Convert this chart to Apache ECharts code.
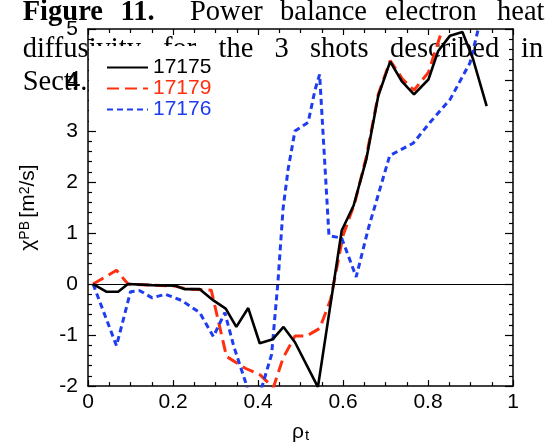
<!DOCTYPE html>
<html>
<head>
<meta charset="utf-8">
<script src="https://cdn.jsdelivr.net/npm/echarts@6/dist/echarts.min.js"></script>
<style>
  html, body { margin: 0; padding: 0; background: #fff; }
  #chart { width: 557px; height: 448px; }
</style>
</head>
<body>
<div id="chart"></div>
<script>
// Shot numbers shown in the legend
const shotNames = ['17175', '17179', '17176'];

// Shot 17175: normalised radius and power-balance chi_e [m^2/s]
const rho17175 = [0.012, 0.043, 0.071, 0.094, 0.15, 0.204, 0.228, 0.263, 0.295, 0.324, 0.349, 0.377, 0.404, 0.435, 0.46, 0.487, 0.541, 0.597, 0.625, 0.655, 0.683, 0.711, 0.738, 0.767, 0.801, 0.824, 0.852, 0.881, 0.906, 0.938];
const chi17175 = [0, -0.15, -0.15, 0, -0.02, -0.03, -0.1, -0.1, -0.32, -0.48, -0.84, -0.47, -1.16, -1.08, -0.84, -1.14, -2.02, 1.05, 1.54, 2.45, 3.69, 4.36, 3.98, 3.72, 4.01, 4.57, 4.87, 4.94, 4.41, 3.49];

// Shot 17179
const rho17179 = [0.012, 0.067, 0.094, 0.15, 0.204, 0.235, 0.29, 0.326, 0.37, 0.405, 0.436, 0.459, 0.487, 0.514, 0.545, 0.571, 0.6, 0.628, 0.655, 0.683, 0.711, 0.74, 0.767, 0.801, 0.83];
const chi17179 = [0, 0.27, 0, -0.02, -0.04, -0.1, -0.12, -1.42, -1.65, -1.78, -2.03, -1.45, -1.02, -1.02, -0.87, -0.3, 0.95, 1.6, 2.5, 3.72, 4.38, 4.02, 3.8, 4.15, 4.9];

// Shot 17176
const rho17176 = [0.012, 0.067, 0.1, 0.122, 0.151, 0.182, 0.22, 0.263, 0.295, 0.322, 0.343, 0.371, 0.39, 0.408, 0.432, 0.447, 0.459, 0.471, 0.487, 0.518, 0.534, 0.545, 0.567, 0.597, 0.631, 0.66, 0.71, 0.765, 0.805, 0.852, 0.899, 0.927];
const chi17176 = [0, -1.21, -0.15, -0.13, -0.27, -0.2, -0.32, -0.56, -1.03, -0.56, -1.22, -1.93, -2.5, -2.05, -1.38, 0.05, 1.48, 2.26, 3.0, 3.17, 3.8, 4.11, 0.95, 0.9, 0.14, 1.1, 2.52, 2.76, 3.17, 3.62, 4.34, 5.3];

// Tick labels
const xTickLabels = ['0', '0.2', '0.4', '0.6', '0.8', '1'];
const yTickLabels = ['-2', '-1', '0', '1', '2', '3', '4', '5'];

const pairs = (xs, ys) => xs.map((x, i) => [x, ys[i]]);

const sans = '"Liberation Sans", Arial, Helvetica, sans-serif';
const serifFont = '28.5px "Liberation Serif", "Times New Roman", serif';
const serifBold = 'bold 28.5px "Liberation Serif", "Times New Roman", serif';

const colBlack = '#000000';
const colRed = '#ff3010';
const colBlue = '#1e3cf0';

// Caption words, laid out as a justified paragraph
function word(text, x, baseline, font) {
  return {
    type: 'text', x: x, y: baseline - 5.5, z: 0,
    style: { text: text, font: font || serifFont, fill: '#000', align: 'left', verticalAlign: 'middle' }
  };
}
const caption = [
  word('Figure', 22.7, 18.3, serifBold),
  word('11.', 120.5, 18.3, serifBold),
  word('Power', 190, 18.3),
  word('balance', 280, 18.3),
  word('electron', 385, 18.3),
  word('heat', 497, 18.3),
  word('diffusivity', 22.7, 55),
  word('for', 163, 55),
  word('the', 218.5, 55),
  word('3', 274.5, 55),
  word('shots', 310, 55),
  word('described', 390, 55),
  word('in', 521, 55),
  word('Sect.', 22.7, 88),
  word('4.3', 66, 88)
];

const tickLine = { color: '#000', width: 1.2 };
const frameLine = { show: true, onZero: false, lineStyle: { color: '#000', width: 1.5 } };

const chart = echarts.init(document.getElementById('chart'), null, { renderer: 'canvas' });
chart.setOption({
  animation: false,
  backgroundColor: '#ffffff',
  graphic: { elements: caption },
  grid: { left: 88, right: 44, top: 29, bottom: 59, containLabel: false },
  legend: {
    orient: 'vertical',
    left: 89, top: 46,
    backgroundColor: '#ffffff',
    padding: [11, 4, 3, 17],
    itemWidth: 41, itemHeight: 19, itemGap: 0,
    selectedMode: false,
    itemStyle: { opacity: 0 },
    textStyle: { fontSize: 21, fontFamily: sans, lineHeight: 19 },
    data: [
      { name: shotNames[0], textStyle: { color: colBlack } },
      { name: shotNames[1], textStyle: { color: colRed } },
      { name: shotNames[2], textStyle: { color: colBlue } }
    ],
    z: 6
  },
  xAxis: [
    {
      type: 'value', min: 0, max: 1, interval: 0.2, position: 'bottom',
      axisLine: frameLine,
      axisTick: { show: true, inside: true, length: 6, lineStyle: tickLine },
      minorTick: { show: true, splitNumber: 4, length: 4, lineStyle: tickLine },
      splitLine: { show: false },
      axisLabel: {
        show: true, margin: 6, fontSize: 21, fontFamily: sans, color: '#000',
        showMinLabel: true, showMaxLabel: true,
        formatter: v => xTickLabels[Math.round(v / 0.2)]
      },
      name: '{r|ρ}{t|t}',
      nameLocation: 'middle', nameGap: 22,
      nameTextStyle: {
        rich: {
          r: { fontSize: 21, fontFamily: sans, color: '#000', lineHeight: 21, verticalAlign: 'top' },
          t: { fontSize: 15, fontFamily: sans, color: '#000', lineHeight: 15, verticalAlign: 'bottom', padding: [10, 0, 0, 1] }
        }
      }
    },
    {
      type: 'value', min: 0, max: 1, interval: 0.2, position: 'top',
      axisLine: frameLine,
      axisTick: { show: true, inside: true, length: 6, lineStyle: tickLine },
      minorTick: { show: true, splitNumber: 4, length: 4, lineStyle: tickLine },
      splitLine: { show: false },
      axisLabel: { show: false }
    }
  ],
  yAxis: [
    {
      type: 'value', min: -2, max: 5, interval: 1, position: 'left',
      axisLine: frameLine,
      axisTick: { show: true, inside: true, length: 8, lineStyle: tickLine },
      minorTick: { show: true, splitNumber: 5, length: 4, lineStyle: tickLine },
      splitLine: { show: false },
      axisLabel: {
        show: true, margin: 10, fontSize: 21, fontFamily: sans, color: '#000',
        showMinLabel: true, showMaxLabel: true,
        formatter: v => yTickLabels[Math.round(v) + 2]
      },
      name: '{c|χ}{s|PB} {c|[m}{s|2}{c|/s]}',
      nameLocation: 'middle', nameRotate: 90, nameGap: 49,
      nameTextStyle: {
        rich: {
          c: { fontSize: 21, fontFamily: sans, color: '#000', lineHeight: 21, verticalAlign: 'bottom', padding: [6, 0, 0, 0] },
          s: { fontSize: 14, fontFamily: sans, color: '#000', lineHeight: 14, verticalAlign: 'top' }
        }
      }
    },
    {
      type: 'value', min: -2, max: 5, interval: 1, position: 'right',
      axisLine: frameLine,
      axisTick: { show: true, inside: true, length: 8, lineStyle: tickLine },
      minorTick: { show: true, splitNumber: 5, length: 4, lineStyle: tickLine },
      splitLine: { show: false },
      axisLabel: { show: false }
    }
  ],
  series: [
    {
      name: shotNames[0], type: 'line', data: pairs(rho17175, chi17175),
      symbol: 'none', clip: true, z: 4,
      lineStyle: { color: colBlack, width: 2.6, type: 'solid' },
      itemStyle: { color: colBlack },
      markLine: {
        silent: true, symbol: 'none', label: { show: false },
        lineStyle: { color: '#000', width: 1, type: 'solid' },
        data: [{ yAxis: 0 }]
      }
    },
    {
      name: shotNames[1], type: 'line', data: pairs(rho17179, chi17179),
      symbol: 'none', clip: true, z: 3,
      lineStyle: { color: colRed, width: 3, type: [12, 6] },
      itemStyle: { color: colRed }
    },
    {
      name: shotNames[2], type: 'line', data: pairs(rho17176, chi17176),
      symbol: 'none', clip: true, z: 3,
      lineStyle: { color: colBlue, width: 3, type: [6, 4] },
      itemStyle: { color: colBlue }
    }
  ]
});
</script>
</body>
</html>
